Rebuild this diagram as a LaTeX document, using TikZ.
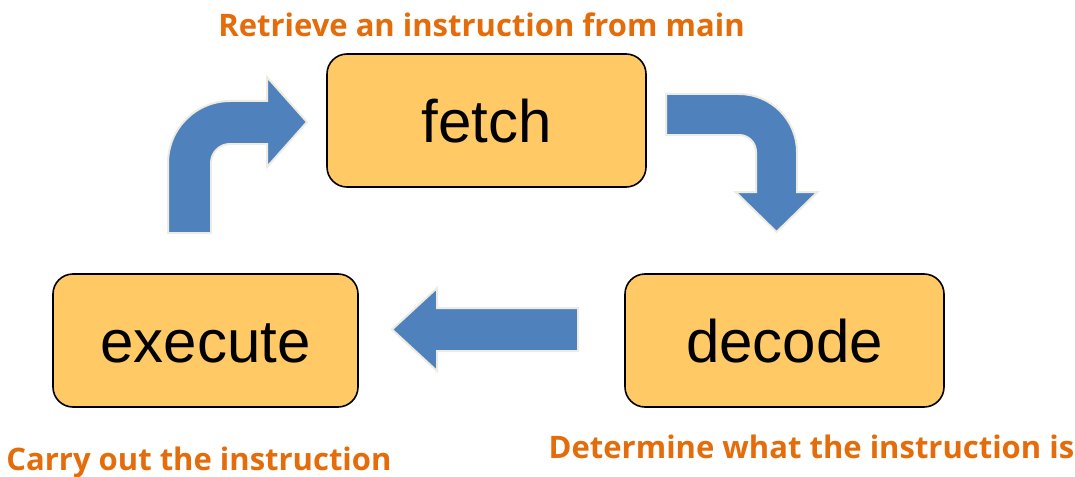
\documentclass[tikz,border=0pt]{standalone}
\usepackage{fontspec}
\setmainfont{Liberation Sans}
\newfontfamily\labelfont{Open Sans}
\definecolor{boxfill}{HTML}{FFCA66}
\definecolor{arrowblue}{HTML}{4F81BD}
\definecolor{arrowrim}{HTML}{EEECE1}
\definecolor{noteorange}{HTML}{E46C0A}
\tikzset{
  stagebox/.style={draw=black, line width=1.6pt, fill=boxfill, rounded corners=20pt,
    minimum width=#1, minimum height=133pt, inner sep=0pt},
  stagetext/.style={font=\fontsize{60}{60}\selectfont, anchor=base, inner sep=0pt},
  blockarrow/.style={fill=arrowblue, draw=arrowrim, line width=2pt, line join=miter},
  note/.style={font=\labelfont\bfseries\fontsize{31}{31}\selectfont, text=noteorange,
    anchor=base, inner sep=0pt}
}
\begin{document}
\begin{tikzpicture}[x=1pt, y=-1pt]
  \useasboundingbox (0,0) rectangle (1075,476);

  % the three stages of the cycle
  \node[stagebox=319pt] (fetch)   at (486.5,120.5) {};
  \node[stagebox=305pt] (execute) at (205.5,340.5) {};
  \node[stagebox=319pt] (decode)  at (784.5,340.5) {};
  \node[stagetext] (fetchtxt)   at (486.5,142) {fetch};
  \node[stagetext] (executetxt) at (205.5,362) {execute};
  \node[stagetext] (decodetxt)  at (784.5,362) {decode};

  % bent arrow rising from execute and turning right into fetch
  \path[blockarrow] (168,233) -- (168,163)
    .. controls (168,128.8) and (195.8,101) .. (230,101)
    -- (267,101) -- (267,77) -- (307,122) -- (267,167) -- (267,144) -- (230,144)
    .. controls (219.5,144) and (211,152.5) .. (211,163)
    -- (211,233) -- cycle;

  % bent arrow leaving fetch and turning down into decode
  \path[blockarrow] (666,94) -- (739,94)
    .. controls (771,94) and (797,120) .. (797,152)
    -- (797,192) -- (817.5,192) -- (776.5,232) -- (735.5,192) -- (756,192) -- (756,152)
    .. controls (756,142.6) and (748.4,135) .. (739,135)
    -- (666,135) -- cycle;

  % straight arrow from decode back to execute
  \path[blockarrow] (578,308) -- (437,308) -- (437,288) -- (392,329.5)
    -- (437,371) -- (437,351) -- (578,351) -- cycle;

  % descriptions of the stages
  \node[note] (fetchnote)   at (481.5,37)  {Retrieve an instruction from main};
  \node[note] (decodenote)  at (811.5,458) {Determine what the instruction is};
  \node[note] (executenote) at (199,470)   {Carry out the instruction};
\end{tikzpicture}
\end{document}
